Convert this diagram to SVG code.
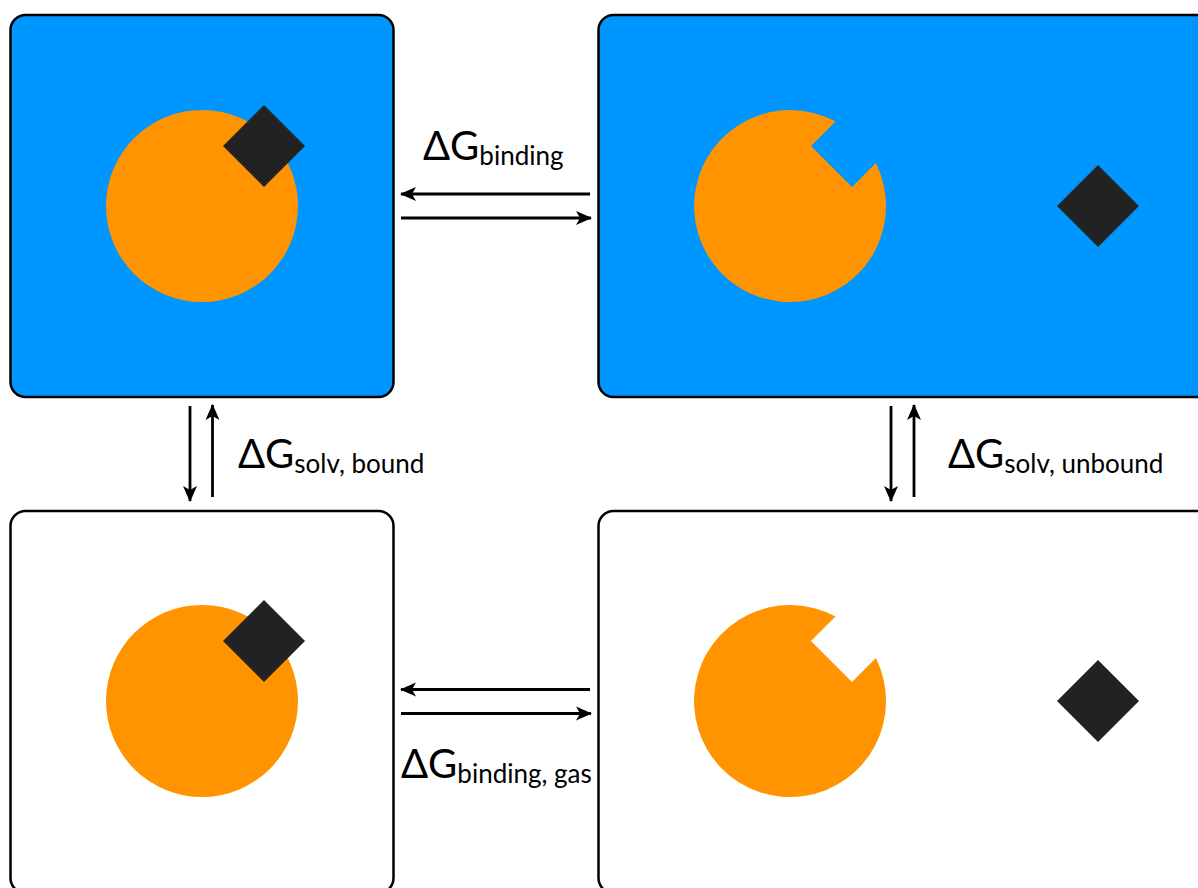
<svg xmlns="http://www.w3.org/2000/svg" width="1198" height="888" viewBox="0 0 1198 888">
  <style>
    .box { stroke: #000; stroke-width: 2.5; }
    .solv { fill: #0096ff; }
    .gas { fill: #fff; }
    .host { fill: #ff9400; }
    .ligand { fill: #222; }
    .conn line { stroke: #000; stroke-width: 2.8; fill: none; }
    .lbl { font-family: Lato, "Open Sans", "Liberation Sans", sans-serif; fill: #000; }
    .big { font-size: 40px; }
    .sub { font-size: 26px; }
  </style>
  <defs>
    <marker id="head" viewBox="0 0 16 16" refX="15" refY="8" markerWidth="16" markerHeight="16" markerUnits="userSpaceOnUse" orient="auto">
      <path d="M0,1 L16,8 L0,15 L4,8 Z" fill="#000"/>
    </marker>
    <!-- host with a binding pocket cut out (centred at 0,0) -->
    <path id="pocket" d="M45.5,-84.5 L21,-60 L62,-19 L85.9,-42.9 A96,96 0 1 1 45.5,-84.5 Z"/>
    <polygon id="diamond" points="0,-41 41,0 0,41 -41,0"/>
  </defs>

  <rect width="1198" height="888" fill="#fff"/>

  <!-- bound complex in solvent -->
  <g id="bound-solv">
    <rect class="box solv" x="10.5" y="15" width="383" height="382" rx="15"/>
    <circle class="host" cx="202" cy="206" r="96"/>
    <use href="#diamond" class="ligand" x="264" y="146"/>
  </g>

  <!-- unbound in solvent -->
  <g id="unbound-solv">
    <rect class="box solv" x="598.5" y="15" width="620" height="382" rx="15"/>
    <use href="#pocket" class="host" x="790" y="206"/>
    <use href="#diamond" class="ligand" x="1098" y="206"/>
  </g>

  <!-- bound complex in gas phase -->
  <g id="bound-gas">
    <rect class="box gas" x="10.5" y="511" width="383" height="382" rx="15"/>
    <circle class="host" cx="202" cy="701" r="96"/>
    <use href="#diamond" class="ligand" x="264" y="641"/>
  </g>

  <!-- unbound in gas phase -->
  <g id="unbound-gas">
    <rect class="box gas" x="598.5" y="511" width="620" height="382" rx="15"/>
    <use href="#pocket" class="host" x="790" y="701"/>
    <use href="#diamond" class="ligand" x="1098" y="701"/>
  </g>

  <g id="connectors" class="conn">
    <line x1="590" y1="194" x2="401" y2="194" marker-end="url(#head)"/>
    <line x1="401" y1="218" x2="591" y2="218" marker-end="url(#head)"/>
    <line x1="590" y1="689.5" x2="401" y2="689.5" marker-end="url(#head)"/>
    <line x1="401" y1="713.5" x2="591" y2="713.5" marker-end="url(#head)"/>
    <line x1="190" y1="406" x2="190" y2="501" marker-end="url(#head)"/>
    <line x1="212.5" y1="497" x2="212.5" y2="405" marker-end="url(#head)"/>
    <line x1="891" y1="406" x2="891" y2="501" marker-end="url(#head)"/>
    <line x1="914" y1="497" x2="914" y2="405" marker-end="url(#head)"/>
  </g>

  <g id="labels" class="lbl">
    <text x="423" y="160"><tspan class="big">ΔG</tspan><tspan class="sub" dy="5">binding</tspan></text>
    <text x="238" y="468"><tspan class="big">ΔG</tspan><tspan class="sub" dy="5">solv, bound</tspan></text>
    <text x="948" y="468"><tspan class="big">ΔG</tspan><tspan class="sub" dy="5">solv, unbound</tspan></text>
    <text x="401" y="778"><tspan class="big">ΔG</tspan><tspan class="sub" dy="5">binding, gas</tspan></text>
  </g>
</svg>
